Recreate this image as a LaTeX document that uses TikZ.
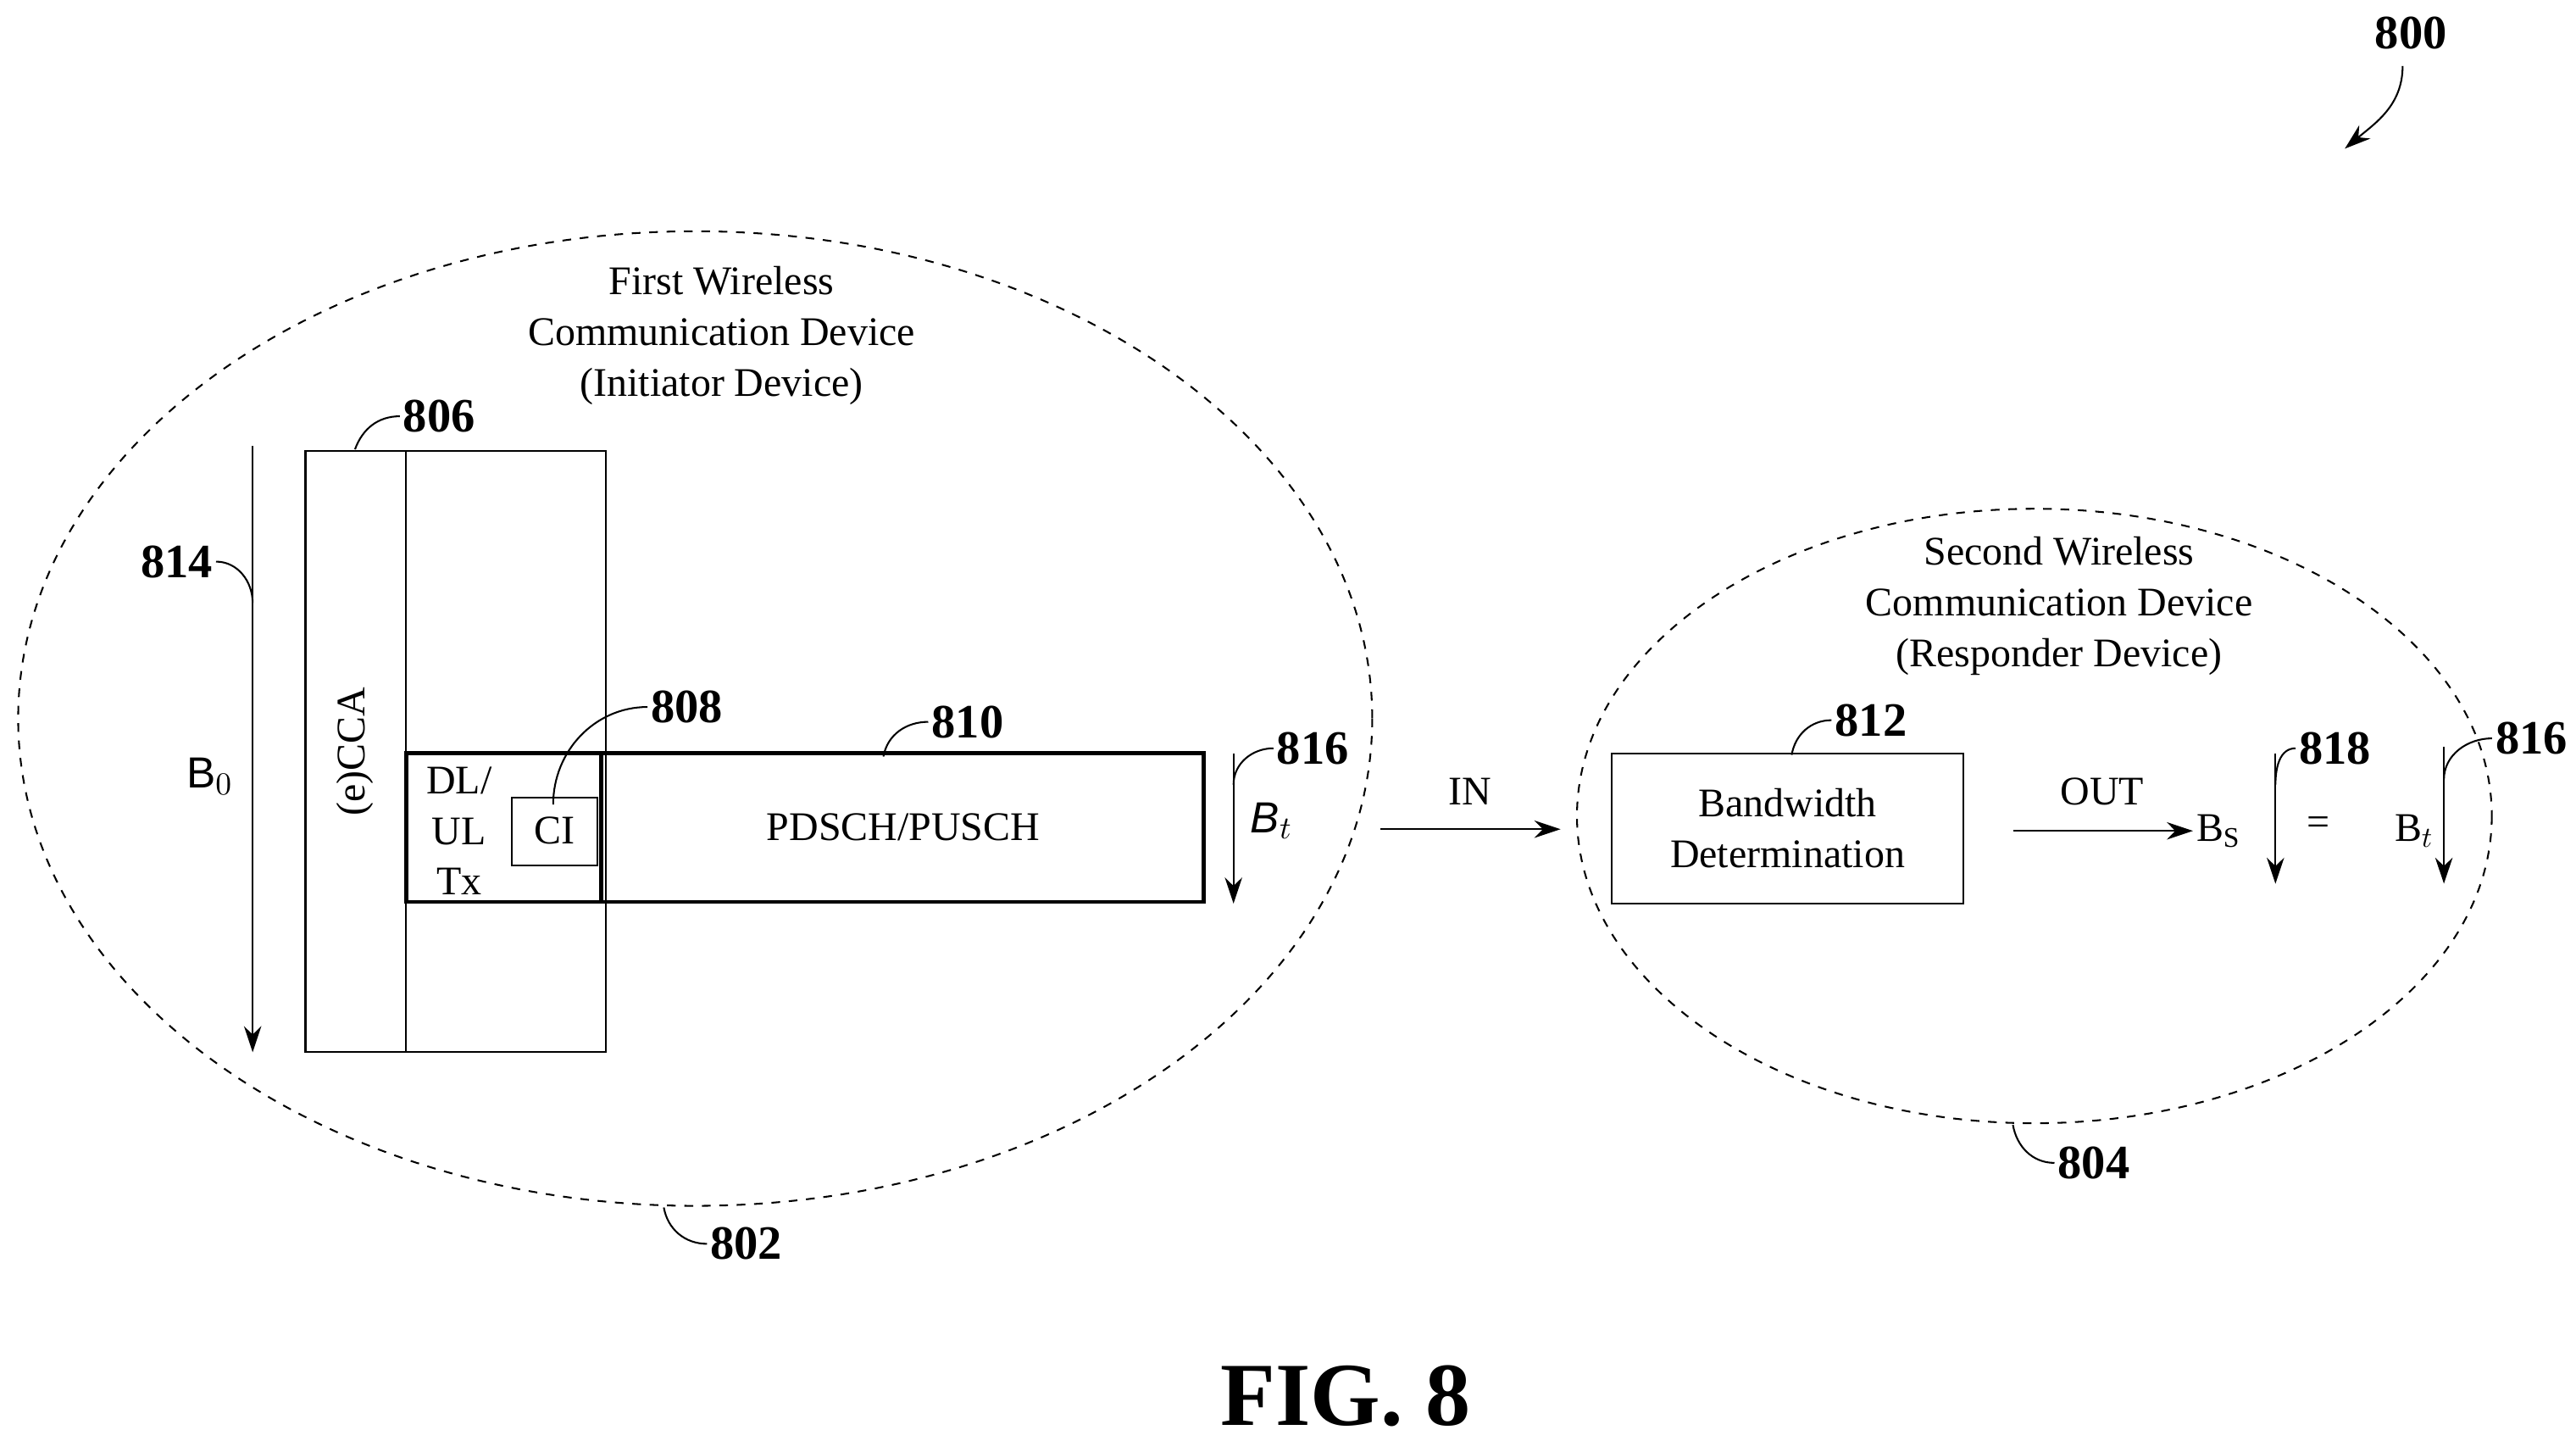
\documentclass[tikz,border=0pt]{standalone}
\usepackage{fontspec}
\setmainfont{Liberation Serif}
\setsansfont{Liberation Sans}
\usetikzlibrary{arrows.meta}
\tikzset{
  txt/.style={font=\fontsize{14}{17.5}\selectfont, align=center},
  num/.style={font=\fontsize{16.5}{18}\selectfont\bfseries, inner sep=1pt},
  box/.style={draw, line width=0.6pt},
  tbox/.style={draw, line width=1.3pt},
  lead/.style={line width=0.6pt},
  arr/.style={line width=0.6pt, -{Stealth[length=9pt,width=6pt]}},
  dev/.style={draw, dashed, line width=0.6pt}
}
\begin{document}
\begin{tikzpicture}[x=0.02cm, y=-0.02cm]
\useasboundingbox (0,0) rectangle (1560,872);

% devices
\draw [dev] (421,435) ellipse [x radius=410, y radius=295];
\draw [dev] (1232,494) ellipse [x radius=277, y radius=186];
\node [txt] (first) at (437,203) {First Wireless\\Communication Device\\(Initiator Device)};
\node [txt] (second) at (1247,367) {Second Wireless\\Communication Device\\(Responder Device)};

% frame
\draw [box] (185,273) rectangle (246,637); % (e)CCA
\draw [box] (246,273) rectangle (367,637);
\node [txt, rotate=90] (ecca) at (215,455) {(e)CCA};
\draw [tbox] (246,456) rectangle (364,546); % DL/UL Tx
\node [txt] (dlul) at (278,503) {DL/\\UL\\Tx};
\draw [box] (310,483) rectangle (362,524); % CI
\node [txt] (ci) at (336,503) {CI};
\draw [tbox] (364,456) rectangle (729,546); % PDSCH
\node [txt] (pdsch) at (547,501) {PDSCH/PUSCH};

% bandwidths
\coordinate (b0t) at (153,270);
\coordinate (b0b) at (153,637);
\draw [arr] (b0t) -- (b0b);
\node [font=\sffamily\fontsize{15}{17}\selectfont] (b0) at (127,470) {B$_0$};
\coordinate (btt) at (747,456);
\coordinate (btb) at (747,547);
\draw [arr] (btt) -- (btb);
\node [font=\sffamily\itshape\fontsize{15}{17}\selectfont] (bt) at (770,497) {B$_t$};

% responder
\node [box, txt, minimum width=213*0.02cm, minimum height=91*0.02cm] (bw) at (1082.5,501.5) {Bandwidth\\Determination};
\coordinate (inA) at (836,502);
\coordinate (inB) at (945,502);
\draw [arr] (inA) -- (inB);
\node [txt] (in) at (890,479) {IN};
\coordinate (outA) at (1219,503);
\node [txt, anchor=west, inner sep=1pt] (bs) at (1328,503) {B\textsubscript{S}};
\draw [arr] (outA) -- (bs.west);
\node [txt] (out) at (1273,479) {OUT};
\node [txt] (eq) at (1404,500) {=};
\node [txt] (bt2) at (1462,503) {B$_t$};
\coordinate (bsa) at (1378,456);
\coordinate (bsb) at (1378,535);
\draw [arr] (bsa) -- (bsb);
\coordinate (bta) at (1480,452);
\coordinate (btb2) at (1480,535);
\draw [arr] (bta) -- (btb2);

% reference numerals
\node [num] (n800) at (1460,20) {800};
\node [num] (n802) at (452,753) {802};
\node [num] (n804) at (1268,704) {804};
\node [num] (n806) at (266,252) {806};
\node [num] (n808) at (416,428) {808};
\node [num] (n810) at (586,437) {810};
\node [num] (n812) at (1133,436) {812};
\node [num] (n814) at (107,340) {814};
\node [num] (n816) at (795,453) {816};
\node [num] (n818) at (1414,453) {818};
\node [num] (n816b) at (1533,447) {816};
\coordinate (c800) at (1420,90);
\coordinate (c802) at (402,731);
\coordinate (c804) at (1219,681);
\coordinate (c806) at (215,272);
\coordinate (c808) at (335,487);
\coordinate (c810) at (535,458);
\coordinate (c812) at (1085,457);
\coordinate (c814) at (153,365);
\coordinate (c816) at (747,475);
\coordinate (c818) at (1378,475);
\coordinate (c816b) at (1480,472);

\draw [arr] (1455,40) to[out=-90, in=40] (c800);
\draw [lead] (n802.west) to[out=180, in=-80] (c802);
\draw [lead] (n804.west) to[out=180, in=-80] (c804);
\draw [lead] (n806.west) to[out=180, in=70] (c806);
\draw [lead] (n808.west) to[out=180, in=90] (c808);
\draw [lead] (n810.west) to[out=180, in=80] (c810);
\draw [lead] (n812.west) to[out=180, in=80] (c812);
\draw [lead] (n814.east) to[out=0, in=90] (c814);
\draw [lead] (n816.west) to[out=180, in=90] (c816);
\draw [lead] (n818.west) to[out=180, in=90] (c818);
\draw [lead] (n816b.west) to[out=180, in=90] (c816b);

\node [font=\fontsize{31}{34}\selectfont\bfseries] (fig) at (815,845) {FIG. 8};
\end{tikzpicture}
\end{document}
